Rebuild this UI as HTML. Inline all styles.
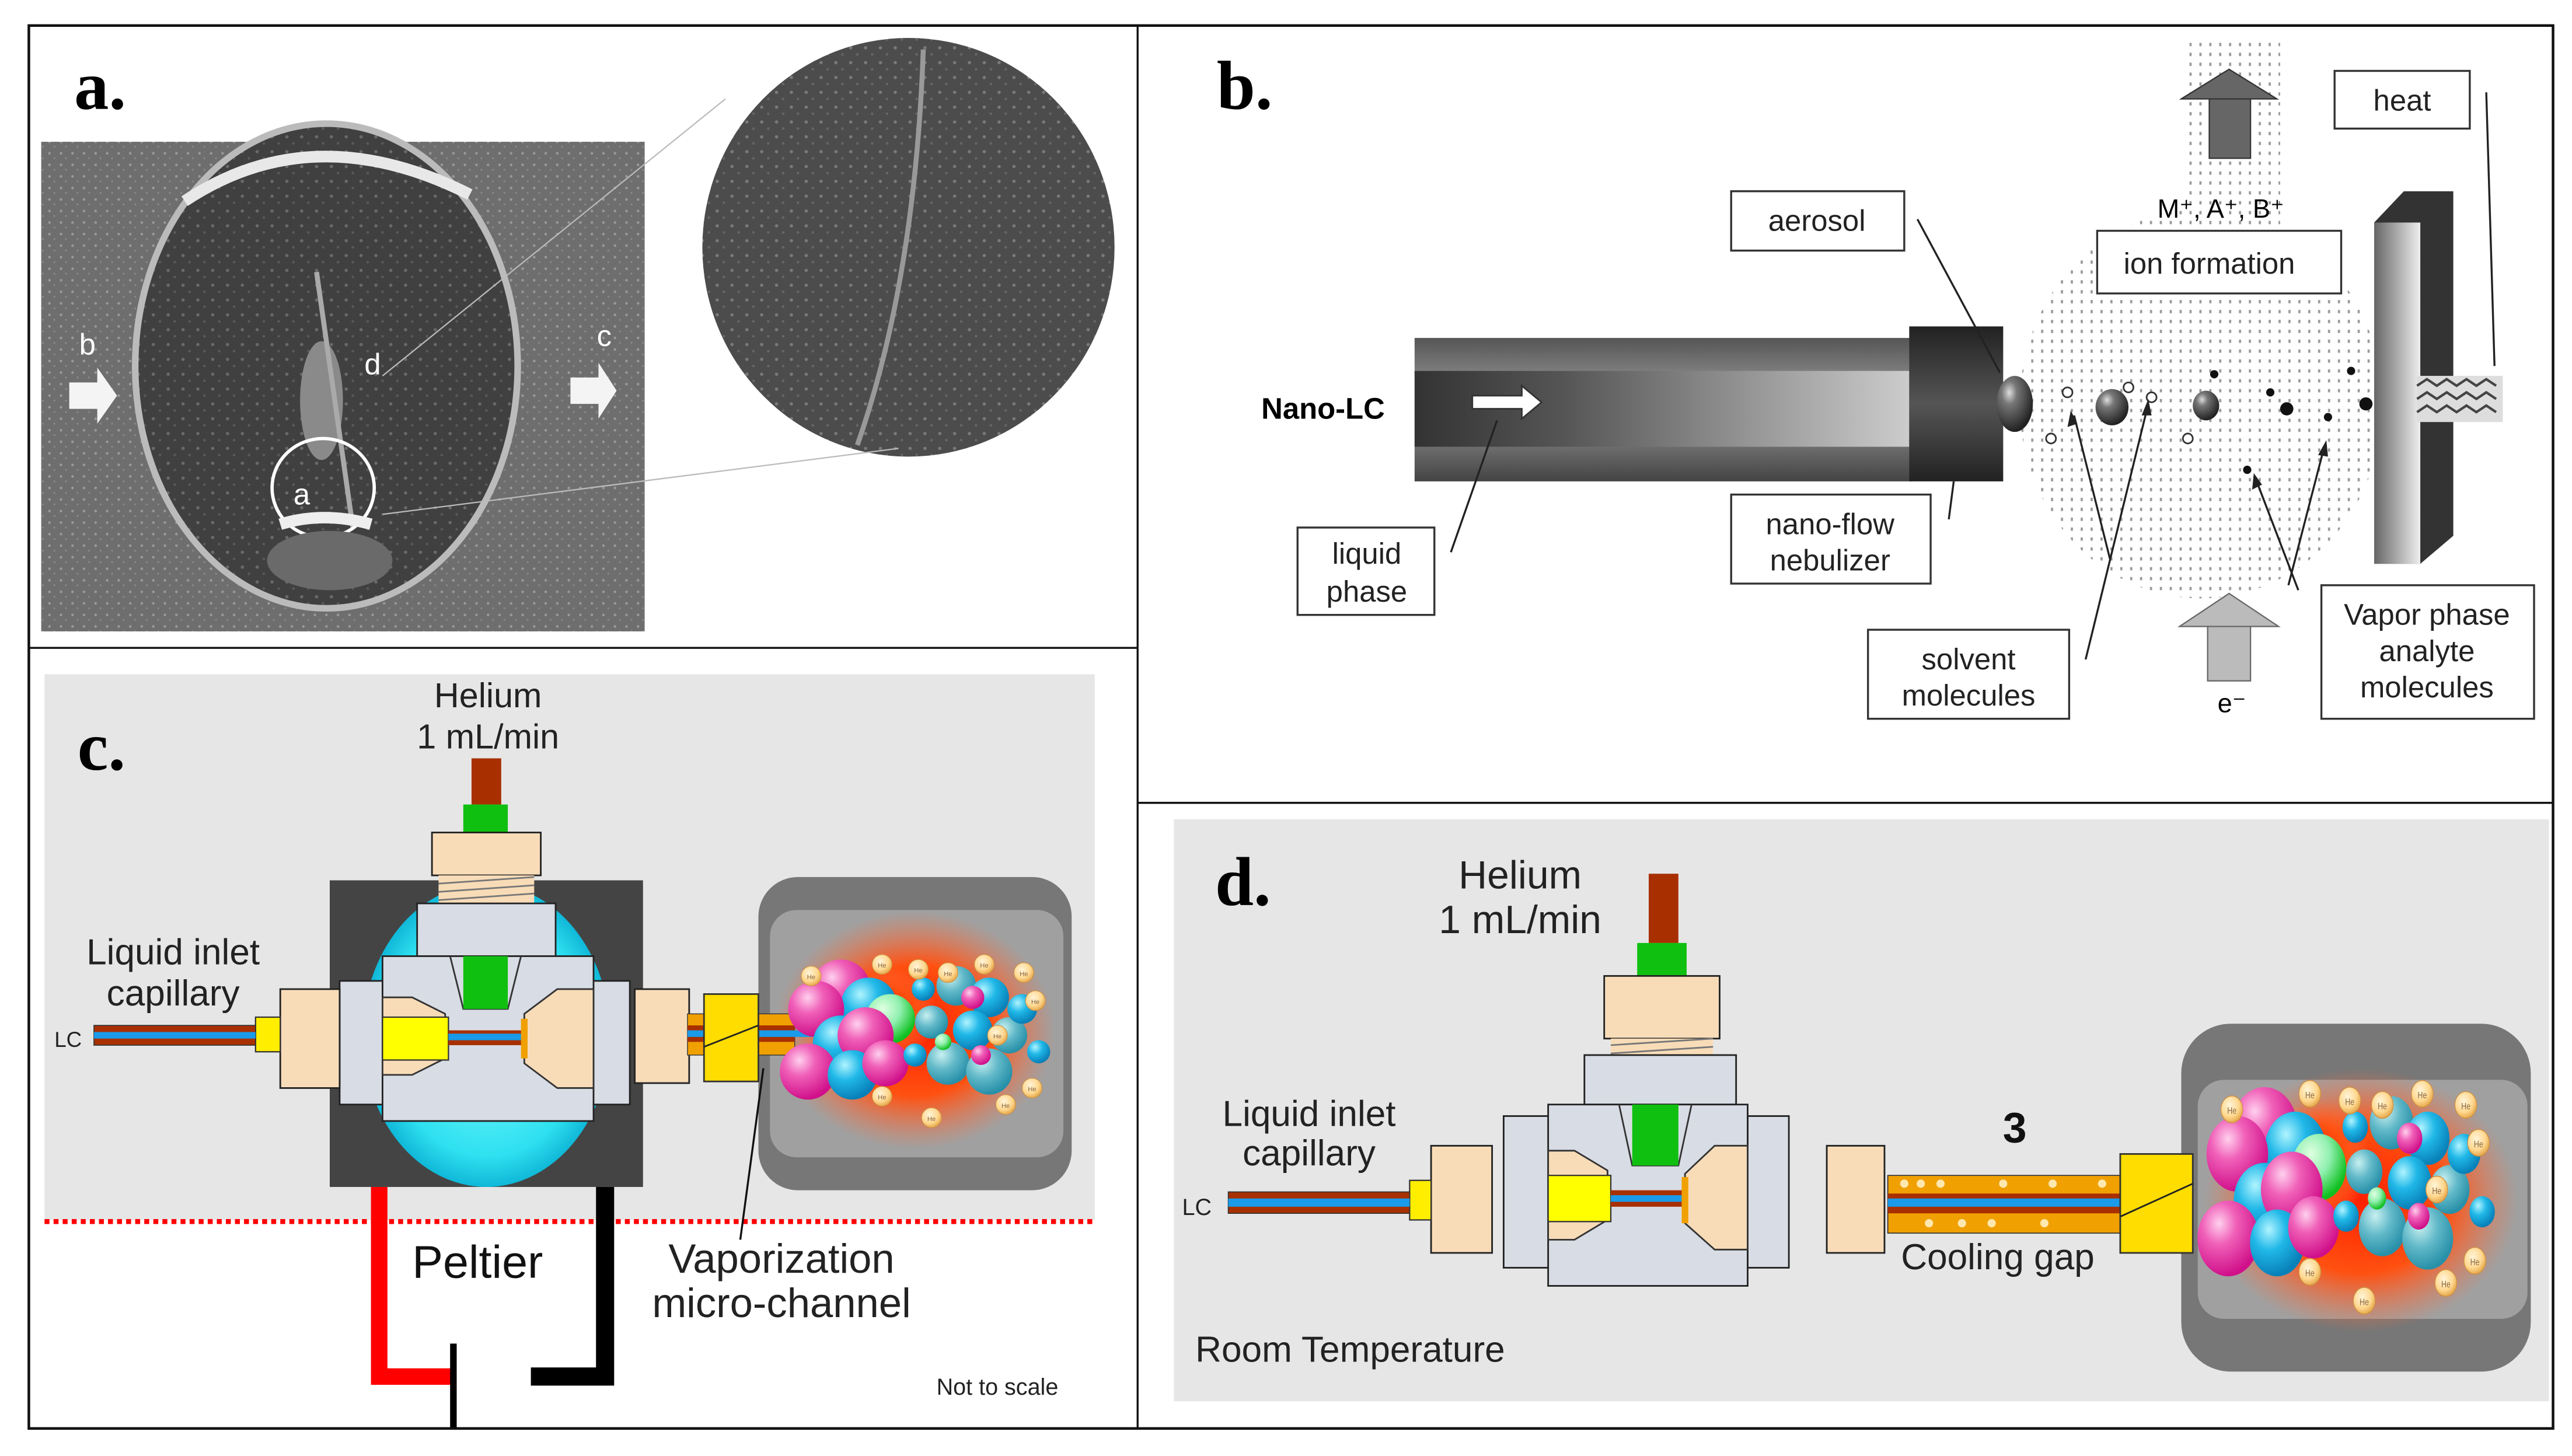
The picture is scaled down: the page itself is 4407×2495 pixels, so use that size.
<!DOCTYPE html>
<html><head><meta charset="utf-8"><style>
html,body{margin:0;padding:0;background:#fff;}
svg{display:block;}
text{font-family:"Liberation Sans",sans-serif;}
.ser{font-family:"Liberation Serif",serif;font-weight:bold;}
</style></head><body>
<svg width="4407" height="2495" viewBox="0 0 1560 883.2" preserveAspectRatio="none" xmlns="http://www.w3.org/2000/svg">
<defs>
<pattern id="dots" width="6" height="6" patternUnits="userSpaceOnUse"><rect width="6" height="6" fill="#fff"/><rect x="2" y="2" width="1.3" height="2" fill="#999"/></pattern>
<pattern id="noise" width="7" height="7" patternUnits="userSpaceOnUse"><rect width="7" height="7" fill="#6e6e6e"/><circle cx="2" cy="2" r="0.8" fill="#999"/><circle cx="5" cy="5" r="0.6" fill="#888"/></pattern>
<pattern id="noise2" width="9" height="9" patternUnits="userSpaceOnUse"><rect width="9" height="9" fill="#404040"/><circle cx="3" cy="2" r="1" fill="#6a6a6a"/><circle cx="7" cy="6" r="0.8" fill="#5a5a5a"/></pattern>
<pattern id="noise3" width="9" height="9" patternUnits="userSpaceOnUse"><rect width="9" height="9" fill="#4c4c4c"/><circle cx="3" cy="2" r="1" fill="#7a7a7a"/><circle cx="7" cy="6" r="0.8" fill="#666"/></pattern>
<linearGradient id="tubeV" x1="0" y1="0" x2="0" y2="1"><stop offset="0" stop-color="#555"/><stop offset="0.3" stop-color="#888"/><stop offset="0.7" stop-color="#777"/><stop offset="1" stop-color="#444"/></linearGradient>
<linearGradient id="tubeH" x1="0" y1="0" x2="1" y2="0"><stop offset="0" stop-color="#333"/><stop offset="0.3" stop-color="#555"/><stop offset="1" stop-color="#ccc"/></linearGradient>
<linearGradient id="capG" x1="0" y1="0" x2="0" y2="1"><stop offset="0" stop-color="#222"/><stop offset="0.5" stop-color="#555"/><stop offset="1" stop-color="#222"/></linearGradient>
<linearGradient id="plate" x1="0" y1="0" x2="1" y2="0"><stop offset="0" stop-color="#666"/><stop offset="0.5" stop-color="#aaa"/><stop offset="1" stop-color="#eee"/></linearGradient>
<radialGradient id="drop" cx="0.35" cy="0.3" r="0.7"><stop offset="0" stop-color="#ddd"/><stop offset="0.3" stop-color="#777"/><stop offset="1" stop-color="#222"/></radialGradient>
<radialGradient id="heat" cx="0.5" cy="0.5" r="0.5"><stop offset="0" stop-color="#ff2000"/><stop offset="0.55" stop-color="#ff5010"/><stop offset="1" stop-color="#ff7040" stop-opacity="0"/></radialGradient>
<radialGradient id="pk" cx="0.35" cy="0.3" r="0.7"><stop offset="0" stop-color="#ffd0ee"/><stop offset="0.4" stop-color="#f060b8"/><stop offset="1" stop-color="#d0108a"/></radialGradient>
<radialGradient id="cy" cx="0.35" cy="0.3" r="0.7"><stop offset="0" stop-color="#b0f4ff"/><stop offset="0.45" stop-color="#20b8e8"/><stop offset="1" stop-color="#0880b8"/></radialGradient>
<radialGradient id="tl" cx="0.35" cy="0.3" r="0.7"><stop offset="0" stop-color="#c8f0f0"/><stop offset="0.5" stop-color="#60b8c8"/><stop offset="1" stop-color="#2890a8"/></radialGradient>
<radialGradient id="gr" cx="0.35" cy="0.3" r="0.7"><stop offset="0" stop-color="#e0ffe0"/><stop offset="0.5" stop-color="#90f0b0"/><stop offset="1" stop-color="#10c020"/></radialGradient>
<radialGradient id="he" cx="0.4" cy="0.35" r="0.7"><stop offset="0" stop-color="#fff4d8"/><stop offset="0.6" stop-color="#ffd890"/><stop offset="1" stop-color="#e0a040"/></radialGradient>
<radialGradient id="cyanE" cx="0.5" cy="0.5" r="0.5"><stop offset="0" stop-color="#8ff"/><stop offset="0.8" stop-color="#2ee0f0"/><stop offset="1" stop-color="#10b8d8"/></radialGradient>
<g id="cluster">
  <circle cx="540" cy="615" r="28" fill="url(#heat)"/>
  <circle cx="510" cy="600" r="18" fill="url(#pk)"/>
  <circle cx="527" cy="610" r="17" fill="url(#cy)"/>
  <circle cx="495" cy="612" r="17" fill="url(#pk)"/>
  <circle cx="540" cy="618" r="15" fill="url(#gr)"/>
  <circle cx="510" cy="633" r="17" fill="url(#cy)"/>
  <circle cx="525" cy="628" r="17" fill="url(#pk)"/>
  <circle cx="490" cy="650" r="17" fill="url(#pk)"/>
  <circle cx="517" cy="652" r="15" fill="url(#cy)"/>
  <circle cx="537" cy="645" r="14" fill="url(#pk)"/>
  <circle cx="580" cy="598" r="12" fill="url(#tl)"/>
  <circle cx="600" cy="605" r="12" fill="url(#cy)"/>
  <circle cx="565" cy="620" r="10" fill="url(#tl)"/>
  <circle cx="590" cy="625" r="12" fill="url(#cy)"/>
  <circle cx="612" cy="628" r="11" fill="url(#tl)"/>
  <circle cx="575" cy="645" r="13" fill="url(#tl)"/>
  <circle cx="600" cy="650" r="14" fill="url(#tl)"/>
  <circle cx="620" cy="612" r="9" fill="url(#cy)"/>
  <circle cx="560" cy="600" r="7" fill="url(#cy)"/>
  <circle cx="555" cy="640" r="7" fill="url(#cy)"/>
  <circle cx="630" cy="638" r="7" fill="url(#cy)"/>
  <circle cx="590" cy="605" r="7" fill="url(#pk)"/>
  <circle cx="595" cy="640" r="6" fill="url(#pk)"/>
  <circle cx="572" cy="632" r="5" fill="url(#gr)"/>
  <g fill="url(#he)" stroke="#d09040" stroke-width="0.4">
   <circle cx="492" cy="592" r="6"/><circle cx="535" cy="585" r="6"/><circle cx="557" cy="588" r="6"/><circle cx="575" cy="590" r="6"/><circle cx="597" cy="585" r="6"/><circle cx="621" cy="590" r="6"/><circle cx="628" cy="607" r="6"/><circle cx="605" cy="628" r="6"/><circle cx="626" cy="660" r="6"/><circle cx="610" cy="670" r="6"/><circle cx="565" cy="678" r="6"/><circle cx="535" cy="665" r="6"/>
  </g>
  <g font-size="4" fill="#864" text-anchor="middle">
   <text x="492" y="594">He</text><text x="535" y="587">He</text><text x="557" y="590">He</text><text x="575" y="592">He</text><text x="597" y="587">He</text><text x="621" y="592">He</text><text x="628" y="609">He</text><text x="605" y="630">He</text><text x="626" y="662">He</text><text x="610" y="672">He</text><text x="565" y="680">He</text><text x="535" y="667">He</text>
  </g>
</g>
</defs>
<rect width="1560" height="883.2" fill="#fff"/>

<!-- PANEL A -->
<text x="45" y="66" class="ser" font-size="42">a.</text>
<rect x="25" y="86" width="366" height="297" fill="url(#noise)"/>
<ellipse cx="198" cy="222" rx="116" ry="147" fill="url(#noise2)" stroke="#bbb" stroke-width="4"/>
<path d="M112,122 Q190,70 285,118" fill="none" stroke="#e8e8e8" stroke-width="7"/>
<ellipse cx="195" cy="243" rx="13" ry="36" fill="#8a8a8a"/>
<path d="M192,165 L214,320" stroke="#aaa" stroke-width="3"/>
<ellipse cx="196" cy="296" rx="31" ry="30" fill="none" stroke="#fff" stroke-width="2"/>
<ellipse cx="200" cy="340" rx="38" ry="18" fill="#6a6a6a"/>
<path d="M170,318 Q196,310 225,318" stroke="#eee" stroke-width="7" fill="none"/>
<text x="48" y="215" font-size="18" fill="#fff">b</text>
<text x="362" y="210" font-size="18" fill="#fff">c</text>
<text x="221" y="227" font-size="18" fill="#fff">d</text>
<text x="178" y="306" font-size="18" fill="#fff">a</text>
<path d="M42,232 h17 v-9 l12,17 l-12,17 v-9 h-17z" fill="#f4f4f4"/>
<path d="M346,229 h17 v-9 l11,17 l-11,17 v-9 h-17z" fill="#f4f4f4"/>
<ellipse cx="551" cy="150" rx="125" ry="127" fill="url(#noise3)"/>
<path d="M560,30 Q555,170 520,270" stroke="#999" stroke-width="3" fill="none"/>
<line x1="232" y1="228" x2="440" y2="60" stroke="#bbb" stroke-width="0.8"/>
<line x1="232" y1="312" x2="545" y2="272" stroke="#bbb" stroke-width="0.8"/>

<!-- PANEL B -->
<text x="738" y="66" class="ser" font-size="42">b.</text>
<rect x="1325" y="24" width="58" height="130" fill="url(#dots)"/>
<ellipse cx="1335" cy="245" rx="110" ry="118" fill="url(#dots)"/>
<rect x="1340" y="58" width="25" height="38" fill="#666" stroke="#333" stroke-width="0.8"/>
<path d="M1323,60 L1352,42 L1381,60z" fill="#666" stroke="#333" stroke-width="0.8"/>
<rect x="1339" y="378" width="26" height="35" fill="#bbb" stroke="#666" stroke-width="0.8"/>
<path d="M1322,380 L1352,360 L1382,380z" fill="#bbb" stroke="#666" stroke-width="0.8"/>
<text x="1347" y="132" font-size="16" text-anchor="middle">M⁺, A⁺, B⁺</text>
<text x="1345" y="432" font-size="16">e⁻</text>
<rect x="858" y="205" width="302" height="87" fill="url(#tubeV)"/>
<rect x="858" y="225" width="300" height="46" fill="url(#tubeH)"/>
<rect x="1158" y="198" width="57" height="94" fill="url(#capG)"/>
<ellipse cx="1222" cy="245" rx="11" ry="17" fill="url(#drop)"/>
<path d="M893,240 h30 v-6 l12,10 l-12,10 v-6 h-30z" fill="#fff" stroke="#333" stroke-width="1"/>
<text x="765" y="254" font-size="18" font-weight="bold">Nano-LC</text>
<path d="M1440,135 L1458,116 L1488,116 L1488,325 L1468,342 L1440,342z" fill="#333"/>
<rect x="1440" y="135" width="28" height="207" fill="url(#plate)"/>
<rect x="1466" y="228" width="52" height="28" fill="#ddd"/>
<path d="M1466,234 l6,-4 l6,4 l6,-4 l6,4 l6,-4 l6,4 l6,-4 l6,4 M1466,242 l6,-4 l6,4 l6,-4 l6,4 l6,-4 l6,4 l6,-4 l6,4 M1466,250 l6,-4 l6,4 l6,-4 l6,4 l6,-4 l6,4 l6,-4 l6,4" stroke="#444" fill="none" stroke-width="1.5"/>
<g fill="#111">
<circle cx="1343" cy="227" r="2.5"/><circle cx="1377" cy="238" r="2.5"/><circle cx="1387" cy="248" r="4"/><circle cx="1412" cy="253" r="2.5"/><circle cx="1435" cy="245" r="4"/><circle cx="1426" cy="225" r="2.5"/><circle cx="1363" cy="285" r="2.5"/>
</g>
<ellipse cx="1281" cy="247" rx="10" ry="11" fill="url(#drop)"/>
<ellipse cx="1338" cy="246" rx="8" ry="9" fill="url(#drop)"/>
<g fill="#fff" stroke="#333" stroke-width="1">
<circle cx="1254" cy="238" r="3"/><circle cx="1291" cy="235" r="3"/><circle cx="1305" cy="241" r="3"/><circle cx="1244" cy="266" r="3"/><circle cx="1327" cy="266" r="3"/>
</g>
<g stroke="#222" stroke-width="1.2" fill="none">
<line x1="1163" y1="133" x2="1213" y2="226"/>
<line x1="880" y1="335" x2="908" y2="255"/>
<line x1="1182" y1="315" x2="1185" y2="292"/>
<line x1="1508" y1="56" x2="1513" y2="222"/>
<path d="M1265,400 L1303,245 M1280,340 L1258,252 M1394,358 L1368,290 M1388,355 L1410,270"/>
</g>
<g fill="#222"><path d="M1303,242 l-4,10 l6,0z"/><path d="M1256,249 l-2,10 l6,-2z"/><path d="M1367,287 l-1,10 l6,-3z"/><path d="M1411,267 l-5,9 l6,1z"/></g>
<g fill="#fff" stroke="#333" stroke-width="1.2">
<rect x="1050" y="116" width="105" height="36"/>
<rect x="1272" y="140" width="148" height="38"/>
<rect x="1416" y="43" width="82" height="35"/>
<rect x="787" y="320" width="83" height="53"/>
<rect x="1050" y="300" width="121" height="54"/>
<rect x="1133" y="382" width="122" height="54"/>
<rect x="1408" y="355" width="129" height="81"/>
</g>
<g font-size="18" text-anchor="middle" fill="#222">
<text x="1102" y="140">aerosol</text>
<text x="1340" y="166">ion formation</text>
<text x="1457" y="67">heat</text>
<text x="829" y="342">liquid</text><text x="829" y="365">phase</text>
<text x="1110" y="324">nano-flow</text><text x="1110" y="346">nebulizer</text>
<text x="1194" y="406">solvent</text><text x="1194" y="428">molecules</text>
<text x="1472" y="379">Vapor phase</text><text x="1472" y="401">analyte</text><text x="1472" y="423">molecules</text>
</g>

<!-- PANEL C -->
<rect x="27" y="409" width="637" height="331" fill="#e6e6e6"/>
<text x="47" y="467" class="ser" font-size="42">c.</text>
<text x="296" y="429" font-size="21" text-anchor="middle" fill="#222">Helium</text>
<text x="296" y="454" font-size="21" text-anchor="middle" fill="#222">1 mL/min</text>
<text x="105" y="585" font-size="22" text-anchor="middle" fill="#222">Liquid inlet</text>
<text x="105" y="610" font-size="22" text-anchor="middle" fill="#222">capillary</text>
<text x="33" y="635" font-size="13" fill="#222">LC</text>
<rect x="200" y="534" width="190" height="186" fill="#444"/>
<ellipse cx="295" cy="628" rx="75" ry="92" fill="url(#cyanE)"/>
<rect x="286" y="460" width="18" height="28" fill="#a83000"/>
<rect x="281" y="488" width="27" height="18" fill="#10c010"/>
<rect x="262" y="505" width="66" height="26" fill="#f8dcb8" stroke="#222" stroke-width="1"/>
<rect x="266" y="531" width="58" height="17" fill="#f8dcb8"/>
<path d="M266,536 L324,532 M266,541 L324,537 M266,546 L324,542" stroke="#777" stroke-width="1"/>
<rect x="253" y="548" width="84" height="32" fill="#d8dce4" stroke="#222" stroke-width="1"/>
<rect x="206" y="595" width="27" height="75" fill="#d8dce4" stroke="#222" stroke-width="1"/>
<rect x="358" y="595" width="24" height="75" fill="#d8dce4" stroke="#222" stroke-width="1"/>
<rect x="232" y="580" width="128" height="100" fill="#d8dce4" stroke="#222" stroke-width="1"/>
<path d="M232,605 L250,605 L270,615 L270,642 L250,652 L232,652z" fill="#f8dcb8" stroke="#333" stroke-width="1"/>
<path d="M360,600 L338,600 L318,615 L318,645 L338,660 L360,660z" fill="#f8dcb8" stroke="#333" stroke-width="1"/>
<path d="M273,580 L281,612 L308,612 L316,580" fill="none" stroke="#333" stroke-width="1"/>
<rect x="281" y="580" width="27" height="32" fill="#10c010"/>
<rect x="232" y="617" width="40" height="26" fill="#ffff00" stroke="#333" stroke-width="0.8"/>
<rect x="272" y="625" width="46" height="9" fill="#a83000"/>
<rect x="272" y="627" width="46" height="4" fill="#1a9ae8"/>
<rect x="316" y="618" width="4" height="24" fill="#f0a000"/>
<rect x="170" y="600" width="36" height="60" fill="#f8dcb8" stroke="#222" stroke-width="1"/>
<rect x="155" y="617" width="15" height="21" fill="#ffee00" stroke="#333" stroke-width="0.8"/>
<rect x="57" y="622" width="98" height="12" fill="#a83000" stroke="#333" stroke-width="0.6"/>
<rect x="57" y="626" width="98" height="4" fill="#1a9ae8"/>
<rect x="385" y="600" width="33" height="57" fill="#f8dcb8" stroke="#222" stroke-width="1"/>
<rect x="460" y="532" width="190" height="190" rx="24" fill="#777"/>
<rect x="467" y="552" width="178" height="150" rx="16" fill="#a0a0a0"/>
<ellipse cx="555" cy="625" rx="85" ry="72" fill="url(#heat)"/>
<rect x="417" y="615" width="65" height="25" fill="#f0a000" stroke="#333" stroke-width="0.5"/>
<rect x="417" y="622" width="65" height="10" fill="#a83000"/>
<rect x="417" y="625" width="130" height="4" fill="#1a9ae8"/>
<rect x="427" y="603" width="33" height="53" fill="#ffdd00" stroke="#333" stroke-width="1"/>
<line x1="427" y1="635" x2="460" y2="622" stroke="#222" stroke-width="1"/>
<use href="#cluster"/>
<line x1="27" y1="741" x2="664" y2="741" stroke="#f00" stroke-width="3" stroke-dasharray="3,2.5"/>
<path d="M230,720 L230,835 L275,835" fill="none" stroke="#f00" stroke-width="10"/>
<line x1="275" y1="815" x2="275" y2="867" stroke="#000" stroke-width="4"/>
<path d="M367,720 L367,835 L322,835" fill="none" stroke="#000" stroke-width="11"/>
<line x1="449" y1="752" x2="463" y2="648" stroke="#111" stroke-width="1.2"/>
<text x="250" y="775" font-size="28" fill="#111">Peltier</text>
<text x="474" y="772" font-size="25" text-anchor="middle" fill="#222">Vaporization</text>
<text x="474" y="799" font-size="25" text-anchor="middle" fill="#222">micro-channel</text>
<text x="568" y="846" font-size="14" fill="#222">Not to scale</text>

<!-- PANEL D -->
<rect x="712" y="497" width="834" height="353" fill="#e6e6e6"/>
<text x="737" y="549" class="ser" font-size="42">d.</text>
<text x="922" y="539" font-size="24" text-anchor="middle" fill="#222">Helium</text>
<text x="922" y="566" font-size="24" text-anchor="middle" fill="#222">1 mL/min</text>
<text x="794" y="683" font-size="22" text-anchor="middle" fill="#222">Liquid inlet</text>
<text x="794" y="707" font-size="22" text-anchor="middle" fill="#222">capillary</text>
<text x="717" y="737" font-size="14" fill="#222">LC</text>
<rect x="1000" y="530" width="18" height="42" fill="#a83000"/>
<rect x="993" y="572" width="30" height="20" fill="#10c010"/>
<rect x="973" y="592" width="70" height="38" fill="#f8dcb8" stroke="#222" stroke-width="1"/>
<rect x="977" y="630" width="62" height="12" fill="#f8dcb8"/>
<path d="M977,634 L1039,630 M977,639 L1039,635" stroke="#777" stroke-width="1"/>
<rect x="961" y="640" width="92" height="30" fill="#d8dce4" stroke="#222" stroke-width="1"/>
<rect x="912" y="677" width="28" height="92" fill="#d8dce4" stroke="#222" stroke-width="1"/>
<rect x="1060" y="677" width="25" height="92" fill="#d8dce4" stroke="#222" stroke-width="1"/>
<rect x="939" y="670" width="121" height="110" fill="#d8dce4" stroke="#222" stroke-width="1"/>
<path d="M939,698 L955,698 L975,710 L975,740 L955,752 L939,752z" fill="#f8dcb8" stroke="#333" stroke-width="1"/>
<path d="M1060,695 L1040,695 L1022,712 L1022,742 L1040,758 L1060,758z" fill="#f8dcb8" stroke="#333" stroke-width="1"/>
<path d="M982,670 L990,707 L1018,707 L1026,670" fill="none" stroke="#333" stroke-width="1"/>
<rect x="990" y="670" width="28" height="37" fill="#10c010"/>
<rect x="939" y="713" width="38" height="28" fill="#ffff00" stroke="#333" stroke-width="0.8"/>
<rect x="977" y="722" width="46" height="10" fill="#a83000"/>
<rect x="977" y="725" width="46" height="4" fill="#1a9ae8"/>
<rect x="1020" y="714" width="4" height="28" fill="#f0a000"/>
<rect x="868" y="695" width="37" height="65" fill="#f8dcb8" stroke="#222" stroke-width="1"/>
<rect x="855" y="716" width="13" height="24" fill="#ffee00" stroke="#333" stroke-width="0.8"/>
<rect x="745" y="723" width="110" height="13" fill="#a83000" stroke="#333" stroke-width="0.6"/>
<rect x="745" y="727" width="110" height="5" fill="#1a9ae8"/>
<rect x="1108" y="695" width="35" height="65" fill="#f8dcb8" stroke="#222" stroke-width="1"/>
<rect x="1323" y="621" width="212" height="211" rx="30" fill="#777"/>
<rect x="1333" y="655" width="200" height="145" rx="16" fill="#a0a0a0"/>
<ellipse cx="1432" cy="728" rx="95" ry="80" fill="url(#heat)"/>
<rect x="1145" y="713" width="145" height="35" fill="#f0a000" stroke="#333" stroke-width="0.6"/>
<rect x="1145" y="724" width="145" height="12" fill="#a83000"/>
<rect x="1145" y="727" width="145" height="5" fill="#1a9ae8"/>
<g fill="#ffe8b0"><circle cx="1155" cy="718" r="2.5"/><circle cx="1165" cy="718" r="2.5"/><circle cx="1177" cy="718" r="2.5"/><circle cx="1215" cy="718" r="2.5"/><circle cx="1245" cy="718" r="2.5"/><circle cx="1275" cy="718" r="2.5"/><circle cx="1170" cy="742" r="2.5"/><circle cx="1190" cy="742" r="2.5"/><circle cx="1208" cy="742" r="2.5"/><circle cx="1240" cy="742" r="2.5"/></g>
<rect x="1286" y="700" width="44" height="60" fill="#ffdd00" stroke="#333" stroke-width="1"/>
<line x1="1286" y1="738" x2="1330" y2="718" stroke="#222" stroke-width="1"/>
<use href="#cluster" transform="translate(1335,650) scale(1.1,1.35) translate(-475,-575)"/>
<text x="1222" y="693" font-size="26" font-weight="bold" text-anchor="middle" fill="#111">3</text>
<text x="1153" y="770" font-size="22" fill="#222">Cooling gap</text>
<text x="725" y="826" font-size="22" fill="#222">Room Temperature</text>

<!-- frame -->
<rect x="17.5" y="15.5" width="1531" height="851" fill="none" stroke="#111" stroke-width="1.6"/>
<line x1="690" y1="15" x2="690" y2="867" stroke="#111" stroke-width="1.2"/>
<line x1="17" y1="393" x2="690" y2="393" stroke="#111" stroke-width="1.2"/>
<line x1="690" y1="487" x2="1549" y2="487" stroke="#111" stroke-width="1.2"/>
</svg>
</body></html>
